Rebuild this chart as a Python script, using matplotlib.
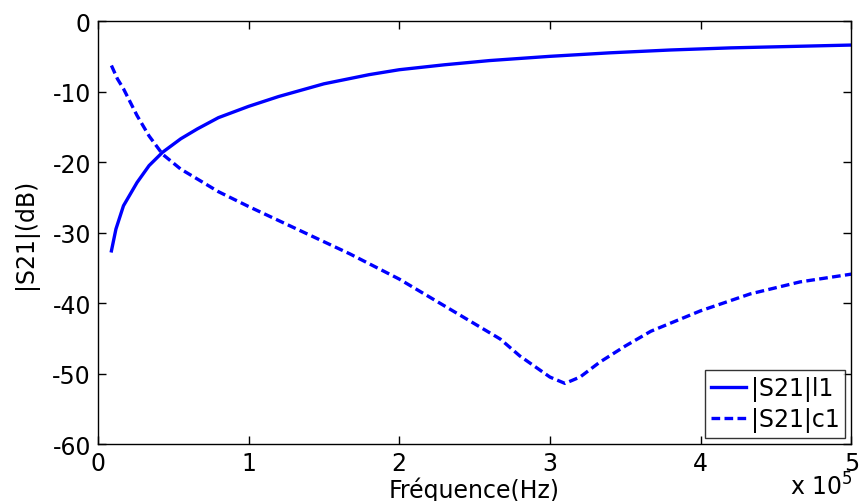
import matplotlib
matplotlib.use("Agg")
from matplotlib import pyplot as plt

# frequency in units of 1e5 Hz
freq_l1 = [0.09, 0.12, 0.17, 0.26, 0.34, 0.43, 0.55, 0.66, 0.8, 1.0, 1.2, 1.5,
           1.8, 2.0, 2.3, 2.6, 3.0, 3.4, 3.8, 4.2, 4.6, 5.0]
s21_l1 = [-32.6, -29.5, -26.2, -22.9, -20.5, -18.6, -16.7, -15.3, -13.7, -12.1,
          -10.7, -8.9, -7.6, -6.9, -6.2, -5.6, -5.0, -4.5, -4.1, -3.8, -3.6, -3.4]

freq_c1 = [0.09, 0.13, 0.17, 0.26, 0.34, 0.43, 0.55, 0.66, 0.8, 1.0, 1.3, 1.67,
           2.0, 2.3, 2.67, 2.8, 3.0, 3.1, 3.2, 3.33, 3.5, 3.67, 4.0, 4.33, 4.66, 5.0]
s21_c1 = [-6.3, -8.2, -9.6, -13.4, -16.3, -18.9, -21.0, -22.4, -24.2, -26.3,
          -29.3, -33.0, -36.6, -40.4, -45.1, -47.5, -50.5, -51.4, -50.5, -48.4,
          -46.1, -44.0, -41.1, -38.7, -37.0, -35.9]

x_ticks = [0, 1, 2, 3, 4, 5]
y_ticks = [-60, -50, -40, -30, -20, -10, 0]

plt.rcParams['font.family'] = ['DejaVu Sans']
plt.rcParams['axes.unicode_minus'] = False

fig = plt.figure(figsize=(8.66, 5.02), dpi=100)
ax = fig.add_axes([0.113, 0.1135, 0.87, 0.8425])

ax.plot(freq_l1, s21_l1, color='#0000ff', lw=2.4, label='|S21|l1')
ax.plot(freq_c1, s21_c1, color='#0000ff', lw=2.4, ls=(0, (2.6, 1.3)), label='|S21|c1')

ax.set_xlim(0, 5)
ax.set_ylim(-60, 0)
ax.set_xticks(x_ticks)
ax.set_yticks(y_ticks)
ax.tick_params(direction='in', top=True, right=True, labelsize=17, length=6, width=1, pad=5)
for s in ax.spines.values():
    s.set_linewidth(1)
ax.set_xlabel('Fréquence(Hz)', fontsize=17, labelpad=1)
ax.set_ylabel('|S21|(dB)', fontsize=17, labelpad=10)
fig.text(0.985, 0.002, r'x 10$^5$', fontsize=17, ha='right', va='bottom')

leg = ax.legend(loc='lower right', fontsize=17, frameon=True, fancybox=False,
                edgecolor='black', handlelength=1.5, handletextpad=0.2,
                borderpad=0.25, labelspacing=0.25, borderaxespad=0.25)
leg.get_frame().set_linewidth(1)

fig.savefig('out.png', dpi=100)
